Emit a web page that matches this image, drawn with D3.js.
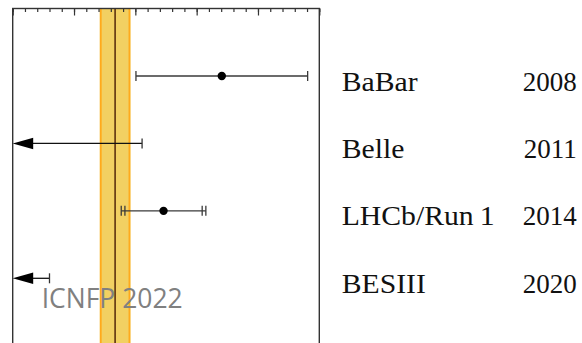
<!DOCTYPE html>
<html>
<head>
<meta charset="utf-8">
<script src="https://cdn.jsdelivr.net/npm/d3@7"></script>
<style>
  body { margin: 0; background: #fff; }
  svg { display: block; }
</style>
</head>
<body>
<div id="graph"></div>
<script>
// measurements, one row per experiment
const experiments = ["BaBar", "Belle", "LHCb/Run\u20091", "BESIII"];
const years = ["2008", "2011", "2014", "2020"];
const central = [3.41, null, 2.46, null];
const statErr = [1.40, null, 0.63, null];
const totalErr = [1.40, null, 0.69, null];
const upperLimit = [null, 2.11, null, 0.60];
// prediction band
const predValue = 1.67;
const predErr = 0.25;
const xDomain = [0, 5];

const rows = experiments.map((name, i) => ({
  name: name,
  year: years[i],
  value: central[i],
  stat: statErr[i],
  total: totalErr[i],
  limit: upperLimit[i],
}));

let width = 582,
  height = 343,
  frame = { left: 12.7, right: 319.3, top: 8.5, bottom: 400 };

let svg = d3
  .select("#graph")
  .append("svg")
  .attr("width", width)
  .attr("height", height);

let x = d3.scaleLinear().domain(xDomain).range([frame.left, frame.right]);
let y = d3.scalePoint().domain(experiments).range([76, 278.3]);

// prediction band
svg
  .append("rect")
  .attr("x", x(predValue - predErr))
  .attr("y", frame.top)
  .attr("width", x(predValue + predErr) - x(predValue - predErr))
  .attr("height", frame.bottom - frame.top)
  .attr("fill", "#f2d062");
svg
  .selectAll(".bandEdge")
  .data([predValue - predErr, predValue + predErr])
  .enter()
  .append("line")
  .attr("x1", (d, i) => x(d) + (i === 0 ? 1 : -1))
  .attr("x2", (d, i) => x(d) + (i === 0 ? 1 : -1))
  .attr("y1", frame.top)
  .attr("y2", frame.bottom)
  .attr("stroke", "#ffaa1c")
  .attr("stroke-width", 1.8);
svg
  .append("line")
  .attr("x1", x(predValue))
  .attr("x2", x(predValue))
  .attr("y1", frame.top)
  .attr("y2", frame.bottom)
  .attr("stroke", "#5e3210")
  .attr("stroke-width", 1.6);

// frame
svg
  .append("rect")
  .attr("x", frame.left)
  .attr("y", frame.top)
  .attr("width", frame.right - frame.left)
  .attr("height", frame.bottom - frame.top)
  .attr("fill", "none")
  .attr("stroke", "#333")
  .attr("stroke-width", 1.4);

// ticks along the top edge, pointing inward
function topTicks(values, size) {
  let g = svg
    .append("g")
    .attr("transform", "translate(0," + frame.top + ")")
    .call(d3.axisBottom(x).tickValues(values).tickSize(size).tickFormat(""));
  g.select(".domain").remove();
  g.selectAll("line").attr("stroke", "#333").attr("stroke-width", 1.2);
}
topTicks(d3.range(0, 5.001, 0.2), 3.5);
topTicks(d3.range(0, 5.001, 1), 7);

let capH = 5;

// measurements with error bars
let meas = rows.filter((d) => d.value !== null);
meas.forEach((d) => {
  let g = svg.append("g").attr("stroke", "#3a3a3a").attr("stroke-width", 1.3);
  let yy = y(d.name);
  g.append("line")
    .attr("x1", x(d.value - d.total))
    .attr("x2", x(d.value + d.total))
    .attr("y1", yy)
    .attr("y2", yy);
  let caps = [d.value - d.total, d.value + d.total];
  if (d.stat !== d.total) caps.push(d.value - d.stat, d.value + d.stat);
  caps.forEach((c) => {
    g.append("line")
      .attr("x1", x(c))
      .attr("x2", x(c))
      .attr("y1", yy - capH)
      .attr("y2", yy + capH);
  });
  svg
    .append("circle")
    .attr("cx", x(d.value))
    .attr("cy", yy)
    .attr("r", 4.2)
    .attr("fill", "#000");
});

// upper limits, arrow to the left edge
let limits = rows.filter((d) => d.limit !== null);
limits.forEach((d) => {
  let yy = y(d.name);
  let tip = x(xDomain[0]);
  svg
    .append("line")
    .attr("x1", tip + 10)
    .attr("x2", x(d.limit))
    .attr("y1", yy)
    .attr("y2", yy)
    .attr("stroke", "#111")
    .attr("stroke-width", 1.3);
  svg
    .append("line")
    .attr("x1", x(d.limit))
    .attr("x2", x(d.limit))
    .attr("y1", yy - capH)
    .attr("y2", yy + capH)
    .attr("stroke", "#333")
    .attr("stroke-width", 1.3);
  svg
    .append("path")
    .attr(
      "d",
      "M" + tip + "," + yy + "L" + (tip + 20.5) + "," + (yy - 5.8) +
        "L" + (tip + 20.5) + "," + (yy + 5.8) + "Z"
    )
    .attr("fill", "#000");
});

// labels on the right
svg
  .selectAll(".expLabel")
  .data(rows)
  .enter()
  .append("text")
  .attr("class", "expLabel")
  .attr("x", 341.7)
  .attr("y", (d) => y(d.name) + 14.5)
  .style("font-family", "'Liberation Serif', serif")
  .style("font-size", "27px")
  .attr("fill", "#111")
  .text((d) => d.name)
  .each(function () {
    // Computer Modern is wider than Times
    let w = this.getComputedTextLength();
    d3.select(this)
      .attr("textLength", w * 1.1)
      .attr("lengthAdjust", "spacingAndGlyphs");
  });

svg
  .selectAll(".yearLabel")
  .data(rows)
  .enter()
  .append("text")
  .attr("class", "yearLabel")
  .attr("x", 576.7)
  .attr("y", (d) => y(d.name) + 14.5)
  .attr("text-anchor", "end")
  .style("font-family", "'Liberation Serif', serif")
  .style("font-size", "27px")
  .attr("fill", "#111")
  .text((d) => d.year);

// conference watermark
svg
  .append("text")
  .attr("x", 41.7)
  .attr("y", 308.3)
  .style("font-family", "'Open Sans', sans-serif")
  .style("font-size", "27px")
  .attr("fill", "#808080")
  .attr("textLength", 141)
  .attr("lengthAdjust", "spacingAndGlyphs")
  .text("ICNFP 2022");
</script>
</body>
</html>
